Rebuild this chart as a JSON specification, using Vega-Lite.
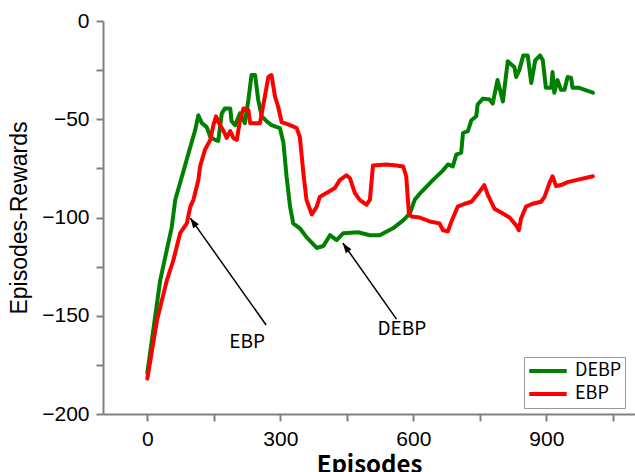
{
  "$schema": "https://vega.github.io/schema/vega-lite/v6.json",
  "width": 532,
  "height": 393,
  "autosize": "none",
  "padding": {"left": 103, "top": 21, "right": 0, "bottom": 58},
  "background": "white",
  "config": {"view": {"stroke": null}, "font": "Liberation Sans"},
  "datasets": {
    "curves": [
      {"ep": 0, "r": -179, "s": "DEBP"}, {"ep": 29, "r": -132, "s": "DEBP"}, {"ep": 55, "r": -105, "s": "DEBP"}, {"ep": 63, "r": -91, "s": "DEBP"}, {"ep": 82, "r": -76, "s": "DEBP"}, {"ep": 97, "r": -64, "s": "DEBP"}, {"ep": 108, "r": -55.5, "s": "DEBP"}, {"ep": 115, "r": -48, "s": "DEBP"}, {"ep": 123, "r": -52, "s": "DEBP"}, {"ep": 134, "r": -54, "s": "DEBP"}, {"ep": 142, "r": -59, "s": "DEBP"}, {"ep": 153, "r": -60.5, "s": "DEBP"}, {"ep": 160, "r": -61, "s": "DEBP"}, {"ep": 168, "r": -47, "s": "DEBP"}, {"ep": 175, "r": -44.5, "s": "DEBP"}, {"ep": 187, "r": -44.5, "s": "DEBP"}, {"ep": 190, "r": -51, "s": "DEBP"}, {"ep": 198, "r": -53, "s": "DEBP"}, {"ep": 209, "r": -47, "s": "DEBP"}, {"ep": 220, "r": -52, "s": "DEBP"}, {"ep": 228, "r": -40, "s": "DEBP"}, {"ep": 235, "r": -27.5, "s": "DEBP"}, {"ep": 243, "r": -27.5, "s": "DEBP"}, {"ep": 250, "r": -40, "s": "DEBP"}, {"ep": 258, "r": -48.5, "s": "DEBP"}, {"ep": 269, "r": -51, "s": "DEBP"}, {"ep": 280, "r": -53, "s": "DEBP"}, {"ep": 299, "r": -54.5, "s": "DEBP"}, {"ep": 307, "r": -62, "s": "DEBP"}, {"ep": 314, "r": -79, "s": "DEBP"}, {"ep": 322, "r": -94.5, "s": "DEBP"}, {"ep": 329, "r": -103, "s": "DEBP"}, {"ep": 344, "r": -105.5, "s": "DEBP"}, {"ep": 359, "r": -110, "s": "DEBP"}, {"ep": 382, "r": -115.5, "s": "DEBP"}, {"ep": 397, "r": -114.5, "s": "DEBP"}, {"ep": 412, "r": -109, "s": "DEBP"}, {"ep": 427, "r": -111.5, "s": "DEBP"}, {"ep": 442, "r": -108, "s": "DEBP"}, {"ep": 475, "r": -107.5, "s": "DEBP"}, {"ep": 502, "r": -109, "s": "DEBP"}, {"ep": 524, "r": -109, "s": "DEBP"}, {"ep": 554, "r": -105.5, "s": "DEBP"}, {"ep": 577, "r": -101.5, "s": "DEBP"}, {"ep": 592, "r": -98, "s": "DEBP"}, {"ep": 603, "r": -91, "s": "DEBP"}, {"ep": 614, "r": -88, "s": "DEBP"}, {"ep": 644, "r": -81, "s": "DEBP"}, {"ep": 667, "r": -76, "s": "DEBP"}, {"ep": 678, "r": -73, "s": "DEBP"}, {"ep": 689, "r": -74, "s": "DEBP"}, {"ep": 697, "r": -68, "s": "DEBP"}, {"ep": 708, "r": -67, "s": "DEBP"}, {"ep": 712, "r": -57, "s": "DEBP"}, {"ep": 723, "r": -56, "s": "DEBP"}, {"ep": 731, "r": -50.5, "s": "DEBP"}, {"ep": 742, "r": -48.5, "s": "DEBP"}, {"ep": 745, "r": -42.5, "s": "DEBP"}, {"ep": 757, "r": -39.5, "s": "DEBP"}, {"ep": 772, "r": -40, "s": "DEBP"}, {"ep": 779, "r": -42, "s": "DEBP"}, {"ep": 790, "r": -30, "s": "DEBP"}, {"ep": 802, "r": -41, "s": "DEBP"}, {"ep": 813, "r": -20.5, "s": "DEBP"}, {"ep": 828, "r": -23.5, "s": "DEBP"}, {"ep": 832, "r": -28.5, "s": "DEBP"}, {"ep": 839, "r": -25, "s": "DEBP"}, {"ep": 848, "r": -17.5, "s": "DEBP"}, {"ep": 858, "r": -17.5, "s": "DEBP"}, {"ep": 866, "r": -31.5, "s": "DEBP"}, {"ep": 875, "r": -20, "s": "DEBP"}, {"ep": 886, "r": -17.5, "s": "DEBP"}, {"ep": 892, "r": -20, "s": "DEBP"}, {"ep": 899, "r": -34, "s": "DEBP"}, {"ep": 911, "r": -34, "s": "DEBP"}, {"ep": 914, "r": -26, "s": "DEBP"}, {"ep": 918, "r": -36.5, "s": "DEBP"}, {"ep": 925, "r": -30, "s": "DEBP"}, {"ep": 933, "r": -35, "s": "DEBP"}, {"ep": 941, "r": -35, "s": "DEBP"}, {"ep": 948, "r": -28.5, "s": "DEBP"}, {"ep": 956, "r": -29, "s": "DEBP"}, {"ep": 959, "r": -34, "s": "DEBP"}, {"ep": 974, "r": -34, "s": "DEBP"}, {"ep": 1005, "r": -36.5, "s": "DEBP"},
      {"ep": 0, "r": -182, "s": "EBP"}, {"ep": 22, "r": -152, "s": "EBP"}, {"ep": 44, "r": -132, "s": "EBP"}, {"ep": 59, "r": -121.5, "s": "EBP"}, {"ep": 74, "r": -108, "s": "EBP"}, {"ep": 89, "r": -103, "s": "EBP"}, {"ep": 97, "r": -94.5, "s": "EBP"}, {"ep": 104, "r": -91, "s": "EBP"}, {"ep": 115, "r": -81, "s": "EBP"}, {"ep": 119, "r": -74, "s": "EBP"}, {"ep": 130, "r": -65.5, "s": "EBP"}, {"ep": 142, "r": -60.5, "s": "EBP"}, {"ep": 149, "r": -53, "s": "EBP"}, {"ep": 155, "r": -48.5, "s": "EBP"}, {"ep": 164, "r": -53, "s": "EBP"}, {"ep": 172, "r": -56, "s": "EBP"}, {"ep": 179, "r": -59.5, "s": "EBP"}, {"ep": 187, "r": -56, "s": "EBP"}, {"ep": 194, "r": -59.5, "s": "EBP"}, {"ep": 202, "r": -60.5, "s": "EBP"}, {"ep": 209, "r": -50.5, "s": "EBP"}, {"ep": 217, "r": -44.5, "s": "EBP"}, {"ep": 228, "r": -45.5, "s": "EBP"}, {"ep": 232, "r": -52, "s": "EBP"}, {"ep": 254, "r": -52, "s": "EBP"}, {"ep": 265, "r": -38.5, "s": "EBP"}, {"ep": 273, "r": -28.5, "s": "EBP"}, {"ep": 280, "r": -27.5, "s": "EBP"}, {"ep": 288, "r": -38.5, "s": "EBP"}, {"ep": 295, "r": -43.5, "s": "EBP"}, {"ep": 303, "r": -51.5, "s": "EBP"}, {"ep": 322, "r": -53, "s": "EBP"}, {"ep": 337, "r": -54.5, "s": "EBP"}, {"ep": 344, "r": -59, "s": "EBP"}, {"ep": 352, "r": -77.5, "s": "EBP"}, {"ep": 359, "r": -91, "s": "EBP"}, {"ep": 371, "r": -98.5, "s": "EBP"}, {"ep": 382, "r": -94.5, "s": "EBP"}, {"ep": 389, "r": -89.5, "s": "EBP"}, {"ep": 408, "r": -87, "s": "EBP"}, {"ep": 423, "r": -85, "s": "EBP"}, {"ep": 434, "r": -81, "s": "EBP"}, {"ep": 449, "r": -78.5, "s": "EBP"}, {"ep": 457, "r": -80, "s": "EBP"}, {"ep": 468, "r": -87.5, "s": "EBP"}, {"ep": 479, "r": -91, "s": "EBP"}, {"ep": 494, "r": -93.5, "s": "EBP"}, {"ep": 502, "r": -91, "s": "EBP"}, {"ep": 509, "r": -73.5, "s": "EBP"}, {"ep": 539, "r": -73, "s": "EBP"}, {"ep": 562, "r": -73.5, "s": "EBP"}, {"ep": 577, "r": -74, "s": "EBP"}, {"ep": 584, "r": -79, "s": "EBP"}, {"ep": 590, "r": -98, "s": "EBP"}, {"ep": 596, "r": -99.5, "s": "EBP"}, {"ep": 614, "r": -100, "s": "EBP"}, {"ep": 637, "r": -102, "s": "EBP"}, {"ep": 659, "r": -103, "s": "EBP"}, {"ep": 667, "r": -106.5, "s": "EBP"}, {"ep": 678, "r": -107, "s": "EBP"}, {"ep": 686, "r": -102, "s": "EBP"}, {"ep": 700, "r": -94.5, "s": "EBP"}, {"ep": 716, "r": -93, "s": "EBP"}, {"ep": 731, "r": -92, "s": "EBP"}, {"ep": 749, "r": -87, "s": "EBP"}, {"ep": 760, "r": -83.5, "s": "EBP"}, {"ep": 768, "r": -88.5, "s": "EBP"}, {"ep": 783, "r": -95.5, "s": "EBP"}, {"ep": 802, "r": -98, "s": "EBP"}, {"ep": 817, "r": -100, "s": "EBP"}, {"ep": 832, "r": -104, "s": "EBP"}, {"ep": 838, "r": -106.5, "s": "EBP"}, {"ep": 843, "r": -100.5, "s": "EBP"}, {"ep": 854, "r": -94.5, "s": "EBP"}, {"ep": 869, "r": -93, "s": "EBP"}, {"ep": 888, "r": -92, "s": "EBP"}, {"ep": 896, "r": -89.5, "s": "EBP"}, {"ep": 907, "r": -82.5, "s": "EBP"}, {"ep": 914, "r": -79, "s": "EBP"}, {"ep": 922, "r": -84, "s": "EBP"}, {"ep": 933, "r": -83.5, "s": "EBP"}, {"ep": 948, "r": -82, "s": "EBP"}, {"ep": 967, "r": -81, "s": "EBP"}, {"ep": 1005, "r": -79, "s": "EBP"}
    ],
    "arrows": [
      {"label": "EBP", "x1": 268, "y1": -154.7, "x2": 97, "y2": -100.3, "tx": 225, "ty": -163.4},
      {"label": "DEBP", "x1": 562, "y1": -151.7, "x2": 441, "y2": -113, "tx": 574, "ty": -156.7}
    ]
  },
  "layer": [
    {
      "data": {"name": "curves"},
      "mark": {"type": "line", "strokeWidth": 4, "strokeJoin": "round", "strokeCap": "round"},
      "encoding": {
        "x": {
          "field": "ep", "type": "quantitative",
          "scale": {"domain": [-100, 1100], "nice": false, "zero": false},
          "axis": {
            "title": "Episodes",
            "values": [0, 150, 300, 450, 600, 750, 900, 1050],
            "labelExpr": "datum.value % 300 === 0 ? datum.label : ''",
            "grid": false,
            "domainColor": "#808080", "domainWidth": 2,
            "tickColor": "#808080", "tickWidth": 2, "tickSize": 7,
            "labelFontSize": 21, "labelColor": "black", "labelPadding": 7,
            "titleFont": "Noto Sans CJK SC", "titleFontSize": 24, "titleFontWeight": "bold", "titleColor": "black", "titlePadding": 4
          }
        },
        "y": {
          "field": "r", "type": "quantitative",
          "scale": {"domain": [-200, 0], "nice": false, "zero": false},
          "axis": {
            "title": "Episodes-Rewards",
            "values": [-200, -175, -150, -125, -100, -75, -50, -25, 0],
            "labelExpr": "datum.value % 50 === 0 ? datum.label : ''",
            "grid": false,
            "domainColor": "#808080", "domainWidth": 2,
            "tickColor": "#808080", "tickWidth": 2, "tickSize": 7,
            "labelFontSize": 21, "labelColor": "black", "labelPadding": 7,
            "titleFontSize": 23, "titleFontWeight": "normal", "titleColor": "black", "titlePadding": 10
          }
        },
        "color": {
          "field": "s", "type": "nominal",
          "scale": {"domain": ["DEBP", "EBP"], "range": ["#008000", "#ff0000"]},
          "legend": {
            "title": null,
            "orient": "none", "legendX": 421, "legendY": 336,
            "symbolType": "stroke", "symbolSize": 1400, "symbolStrokeWidth": 4,
            "clipHeight": 22,
            "labelFont": "Noto Sans CJK SC", "labelFontSize": 18, "labelColor": "black", "labelOffset": 6,
            "strokeColor": "#999999", "fillColor": "white", "padding": 3, "rowPadding": 1
          }
        }
      }
    },
    {
      "data": {"name": "arrows"},
      "mark": {"type": "rule", "color": "black", "strokeWidth": 1.5},
      "encoding": {
        "x": {"field": "x1", "type": "quantitative"},
        "y": {"field": "y1", "type": "quantitative"},
        "x2": {"field": "x2"},
        "y2": {"field": "y2"}
      }
    },
    {
      "data": {"name": "arrows"},
      "mark": {"type": "point", "shape": "M0,0L-0.35,1L0.35,1Z", "filled": true, "color": "black", "opacity": 1, "size": 400, "angle": 325},
      "encoding": {
        "x": {"field": "x2", "type": "quantitative"},
        "y": {"field": "y2", "type": "quantitative"}
      }
    },
    {
      "data": {"name": "arrows"},
      "mark": {"type": "text", "font": "Noto Sans CJK SC", "fontSize": 19, "color": "black", "align": "center", "baseline": "middle"},
      "encoding": {
        "x": {"field": "tx", "type": "quantitative"},
        "y": {"field": "ty", "type": "quantitative"},
        "text": {"field": "label"}
      }
    }
  ]
}
